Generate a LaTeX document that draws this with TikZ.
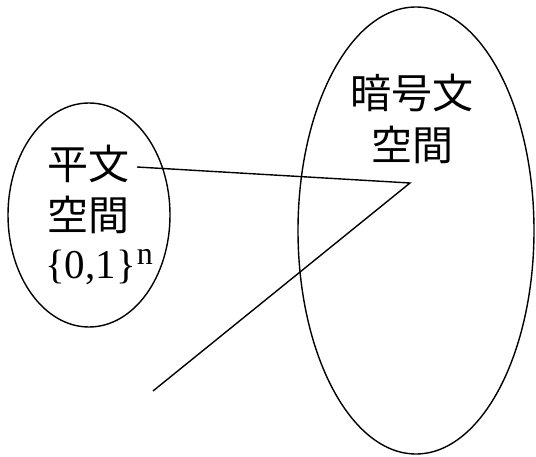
\documentclass[tikz,border=0pt]{standalone}
\usepackage{fontspec}
\setmainfont{Liberation Serif}
\newfontfamily\cjk{Noto Sans CJK JP}
\begin{document}
\begin{tikzpicture}[x=1pt,y=-1pt,
  blob/.style={draw,line width=1.4pt},
  link/.style={draw,line width=1.4pt},
  jlabel/.style={inner sep=0pt,font=\cjk\fontsize{41}{50}\selectfont},
  mlabel/.style={inner sep=0pt,anchor=base west,font=\fontsize{41}{44}\selectfont}]
\useasboundingbox (0,0) rectangle (536,457);
\draw[blob] (89,215) ellipse [x radius=81, y radius=112];
\draw[blob] (416,230.5) ellipse [x radius=118, y radius=223.5];
\node[jlabel] (p1) at (88,164) {平文};
\node[jlabel] (p2) at (88,215) {空間};
\node[mlabel] (p3) at (45,279) {\{0,1\}\kern1pt\raisebox{14pt}{\fontsize{32}{34}\selectfont n}};
\node[jlabel] (c1) at (412,93) {暗号文};
\node[jlabel] (c2) at (412,145) {空間};
\coordinate (s) at (137,167);
\coordinate (m) at (410,183);
\coordinate (e) at (153,391);
\draw[link] (s) -- (m) -- (e);
\end{tikzpicture}
\end{document}
